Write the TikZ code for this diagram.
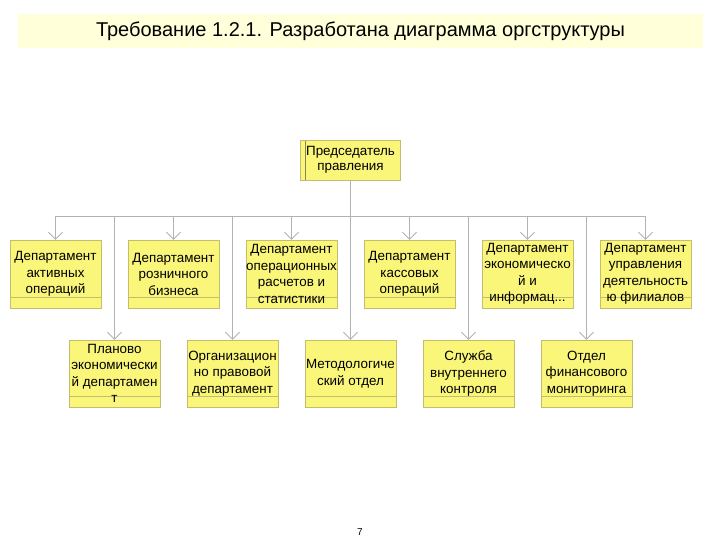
\documentclass[tikz,border=0pt]{standalone}
\usepackage{fontspec}
\setmainfont{Liberation Sans}
\usepackage{tikz}
\usetikzlibrary{positioning,arrows.meta}

\definecolor{boxfill}{RGB}{250,246,122}
\definecolor{boxedge}{RGB}{196,188,110}
\definecolor{wire}{RGB}{178,178,178}
\definecolor{titlefill}{RGB}{255,255,218}

\tikzset{
  dept/.style={draw=boxedge,fill=boxfill,minimum width=91pt,minimum height=68pt,
    inner sep=0pt,align=center,font=\fontsize{13.4}{16.5}\selectfont,
    path picture={\draw[boxedge] ([yshift=10.5pt]path picture bounding box.south west)
      -- ([yshift=10.5pt]path picture bounding box.south east);}},
  unit/.style={dept,minimum height=67pt},
  chair/.style={draw=boxedge,fill=boxfill,minimum width=100pt,minimum height=40pt,
    inner sep=0pt,align=center,font=\fontsize{13.4}{15.5}\selectfont,
    path picture={\draw[boxedge!70!black] ([xshift=5pt]path picture bounding box.south west)
      -- ([xshift=5pt]path picture bounding box.north west);}},
  link/.style={draw=wire,line width=0.9pt},
  feed/.style={link,-{Straight Barb[length=7pt,width=14pt]}}
}

\begin{document}
\begin{tikzpicture}[x=1pt,y=-1pt,node distance=118pt,on grid]
  \useasboundingbox (0,0) rectangle (720,540);

  \node[fill=titlefill,minimum width=685pt,minimum height=34pt,inner sep=0pt,
        font=\fontsize{20}{23}\selectfont] (title) at (360.5,31) {Требование 1.2.1. Разработана диаграмма оргструктуры};

  \node[chair] (pred) at (350.5,160) {Председатель\\правления};

  \node[dept] (d1) at (55.5,274) {Департамент\\активных\\операций};
  \node[dept] (d2) [right = of d1] {Департамент\\розничного\\бизнеса};
  \node[dept] (d3) [right = of d2] {Департамент\\операционных\\расчетов и\\статистики};
  \node[dept] (d4) [right = of d3] {Департамент\\кассовых\\операций};
  \node[dept] (d5) [right = of d4] {Департамент\\экономическо\\й и\\информац...};
  \node[dept] (d6) [right = of d5] {Департамент\\управления\\деятельность\\ю филиалов};

  \node[unit] (u1) at (114.5,373.5) {Планово\\экономически\\й департамен\\т};
  \node[unit] (u2) [right = of u1] {Организацион\\но правовой\\департамент};
  \node[unit] (u3) [right = of u2] {Методологиче\\ский отдел};
  \node[unit] (u4) [right = of u3] {Служба\\внутреннего\\контроля};
  \node[unit] (u5) [right = of u4] {Отдел\\финансового\\мониторинга};

  \coordinate (bus) at (350.5,216);

  % bus
  \path[link] (pred) -- (pred |- bus);
  \path[link] (d1 |- bus) -- (d6 |- bus);

  % drops
  \foreach \n in {d1,d2,d3,d4,d5,d6,u1,u2,u3,u4,u5}
    \path[feed] (\n |- bus) -- (\n);

  \node[font=\fontsize{10}{11}\selectfont] (page) at (360,532) {7};
\end{tikzpicture}
\end{document}
